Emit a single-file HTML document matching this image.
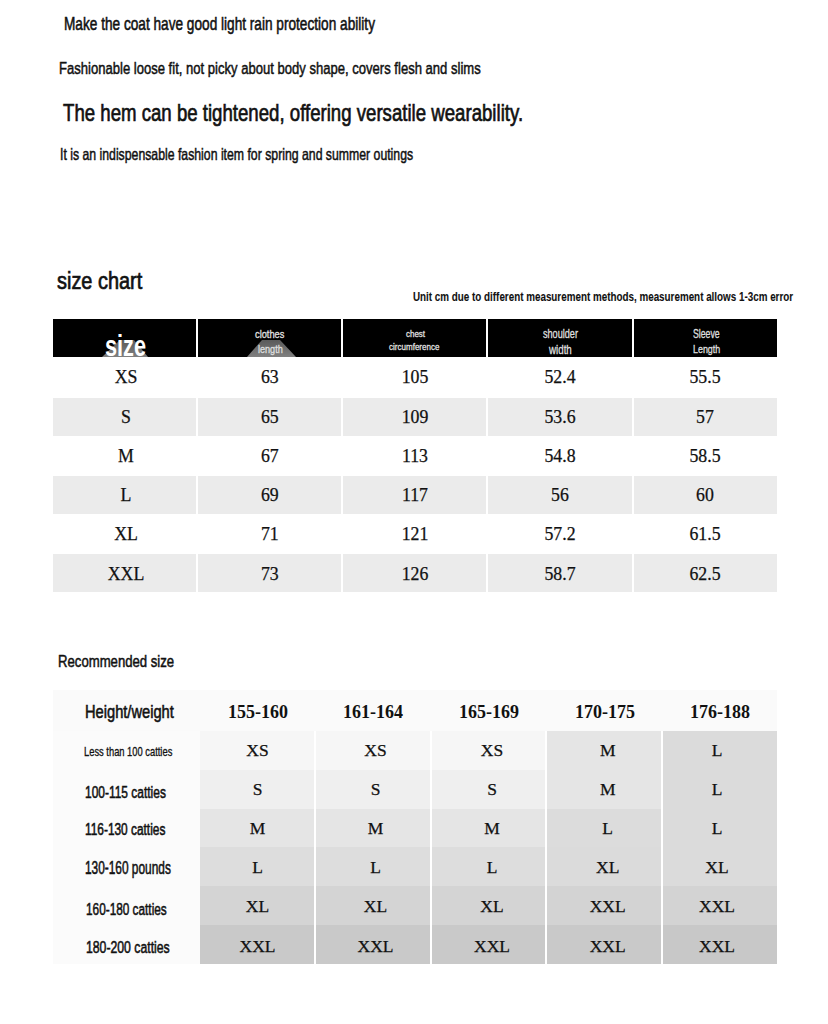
<!DOCTYPE html>
<html><head><meta charset="utf-8">
<style>
html,body{margin:0;padding:0;background:#fff;width:828px;height:1024px;overflow:hidden;position:relative}
.t{position:absolute;white-space:nowrap;line-height:1;font-family:"Liberation Sans",sans-serif;color:#111;transform-origin:0 0}
.c{position:absolute;font-family:"Liberation Serif",serif;color:#111;text-align:center;white-space:nowrap;line-height:1}
.hd{position:absolute;top:319px;height:38px;background:#000}
.r{position:absolute;background:#ebebeb}
.g{position:absolute}
</style></head><body>
<div class="t" style="left:64.08px;top:14.60px;font-size:18.02px;transform:scaleX(0.7573);color:#111;-webkit-text-stroke:0.55px #111;">Make the coat have good light rain protection ability</div>
<div class="t" style="left:59.05px;top:60.50px;font-size:16.86px;transform:scaleX(0.7745);color:#111;-webkit-text-stroke:0.5px #111;">Fashionable loose fit, not picky about body shape, covers flesh and slims</div>
<div class="t" style="left:62.85px;top:100.90px;font-size:24.27px;transform:scaleX(0.7676);color:#111;-webkit-text-stroke:0.7px #111;">The hem can be tightened, offering versatile wearability.</div>
<div class="t" style="left:60.35px;top:146.60px;font-size:16.72px;transform:scaleX(0.7342);color:#111;-webkit-text-stroke:0.5px #111;">It is an indispensable fashion item for spring and summer outings</div>
<div class="t" style="left:57.25px;top:270.30px;font-size:23.55px;transform:scaleX(0.8454);color:#111;-webkit-text-stroke:0.7px #111;">size chart</div>
<div class="t" style="left:412.65px;top:290.00px;font-size:13.66px;transform:scaleX(0.7207);color:#111;-webkit-text-stroke:0.1px #111;font-weight:bold;">Unit cm due to different measurement methods, measurement allows 1-3cm error</div>
<div class="hd" style="left:53px;width:143px"></div>
<div class="hd" style="left:198px;width:143px"></div>
<div class="hd" style="left:343px;width:143px"></div>
<div class="hd" style="left:488px;width:144px"></div>
<div class="hd" style="left:634px;width:143px"></div>
<svg class="g" style="left:0;top:0" width="828" height="400">
<defs><linearGradient id="tg" x1="0" y1="0" x2="0" y2="1"><stop offset="0" stop-color="#5a5a5a"/><stop offset="1" stop-color="#808080"/></linearGradient></defs>
<polygon points="120,340 134,340 148,357 102,357" fill="url(#tg)"/>
<polygon points="262,340 280,340 296,357 247,357" fill="url(#tg)"/>
</svg>
<div class="t" style="left:105.00px;top:330.70px;font-size:29.36px;transform:scaleX(0.7390);color:#fff;font-weight:bold;">size</div>
<div class="t" style="left:255.48px;top:329.80px;font-size:10.47px;transform:scaleX(0.8847);color:#dedede;-webkit-text-stroke:0.35px #dedede;">clothes</div>
<div class="t" style="left:258.18px;top:343.80px;font-size:10.61px;transform:scaleX(0.8560);color:#dedede;-webkit-text-stroke:0.35px #dedede;">length</div>
<div class="t" style="left:405.78px;top:329.80px;font-size:9.01px;transform:scaleX(0.8845);color:#dedede;-webkit-text-stroke:0.35px #dedede;">chest</div>
<div class="t" style="left:389.38px;top:342.90px;font-size:9.16px;transform:scaleX(0.8773);color:#dedede;-webkit-text-stroke:0.35px #dedede;">circumference</div>
<div class="t" style="left:542.88px;top:328.80px;font-size:11.92px;transform:scaleX(0.7646);color:#dedede;-webkit-text-stroke:0.35px #dedede;">shoulder</div>
<div class="t" style="left:549.22px;top:344.70px;font-size:11.92px;transform:scaleX(0.8193);color:#dedede;-webkit-text-stroke:0.35px #dedede;">width</div>
<div class="t" style="left:693.17px;top:327.80px;font-size:12.65px;transform:scaleX(0.6887);color:#dedede;-webkit-text-stroke:0.35px #dedede;">Sleeve</div>
<div class="t" style="left:693.17px;top:344.30px;font-size:11.34px;transform:scaleX(0.7855);color:#dedede;-webkit-text-stroke:0.35px #dedede;">Length</div>
<div class="r" style="top:398px;left:53px;width:143px;height:38px"></div>
<div class="r" style="top:398px;left:198px;width:143px;height:38px"></div>
<div class="r" style="top:398px;left:343px;width:143px;height:38px"></div>
<div class="r" style="top:398px;left:488px;width:144px;height:38px"></div>
<div class="r" style="top:398px;left:634px;width:143px;height:38px"></div>
<div class="r" style="top:476px;left:53px;width:143px;height:38px"></div>
<div class="r" style="top:476px;left:198px;width:143px;height:38px"></div>
<div class="r" style="top:476px;left:343px;width:143px;height:38px"></div>
<div class="r" style="top:476px;left:488px;width:144px;height:38px"></div>
<div class="r" style="top:476px;left:634px;width:143px;height:38px"></div>
<div class="r" style="top:554px;left:53px;width:143px;height:38px"></div>
<div class="r" style="top:554px;left:198px;width:143px;height:38px"></div>
<div class="r" style="top:554px;left:343px;width:143px;height:38px"></div>
<div class="r" style="top:554px;left:488px;width:144px;height:38px"></div>
<div class="r" style="top:554px;left:634px;width:143px;height:38px"></div>
<div class="c" style="left:66.0px;width:120px;top:369.40px;font-size:17.8px;-webkit-text-stroke:0.25px #111;color:#111">XS</div>
<div class="c" style="left:209.8px;width:120px;top:369.40px;font-size:17.8px;-webkit-text-stroke:0.25px #111;color:#111">63</div>
<div class="c" style="left:355.0px;width:120px;top:369.40px;font-size:17.8px;-webkit-text-stroke:0.25px #111;color:#111">105</div>
<div class="c" style="left:500.0px;width:120px;top:369.40px;font-size:17.8px;-webkit-text-stroke:0.25px #111;color:#111">52.4</div>
<div class="c" style="left:645.0px;width:120px;top:369.40px;font-size:17.8px;-webkit-text-stroke:0.25px #111;color:#111">55.5</div>
<div class="c" style="left:66.0px;width:120px;top:408.66px;font-size:17.8px;-webkit-text-stroke:0.25px #111;color:#111">S</div>
<div class="c" style="left:209.8px;width:120px;top:408.66px;font-size:17.8px;-webkit-text-stroke:0.25px #111;color:#111">65</div>
<div class="c" style="left:355.0px;width:120px;top:408.66px;font-size:17.8px;-webkit-text-stroke:0.25px #111;color:#111">109</div>
<div class="c" style="left:500.0px;width:120px;top:408.66px;font-size:17.8px;-webkit-text-stroke:0.25px #111;color:#111">53.6</div>
<div class="c" style="left:645.0px;width:120px;top:408.66px;font-size:17.8px;-webkit-text-stroke:0.25px #111;color:#111">57</div>
<div class="c" style="left:66.0px;width:120px;top:447.92px;font-size:17.8px;-webkit-text-stroke:0.25px #111;color:#111">M</div>
<div class="c" style="left:209.8px;width:120px;top:447.92px;font-size:17.8px;-webkit-text-stroke:0.25px #111;color:#111">67</div>
<div class="c" style="left:355.0px;width:120px;top:447.92px;font-size:17.8px;-webkit-text-stroke:0.25px #111;color:#111">113</div>
<div class="c" style="left:500.0px;width:120px;top:447.92px;font-size:17.8px;-webkit-text-stroke:0.25px #111;color:#111">54.8</div>
<div class="c" style="left:645.0px;width:120px;top:447.92px;font-size:17.8px;-webkit-text-stroke:0.25px #111;color:#111">58.5</div>
<div class="c" style="left:66.0px;width:120px;top:487.18px;font-size:17.8px;-webkit-text-stroke:0.25px #111;color:#111">L</div>
<div class="c" style="left:209.8px;width:120px;top:487.18px;font-size:17.8px;-webkit-text-stroke:0.25px #111;color:#111">69</div>
<div class="c" style="left:355.0px;width:120px;top:487.18px;font-size:17.8px;-webkit-text-stroke:0.25px #111;color:#111">117</div>
<div class="c" style="left:500.0px;width:120px;top:487.18px;font-size:17.8px;-webkit-text-stroke:0.25px #111;color:#111">56</div>
<div class="c" style="left:645.0px;width:120px;top:487.18px;font-size:17.8px;-webkit-text-stroke:0.25px #111;color:#111">60</div>
<div class="c" style="left:66.0px;width:120px;top:526.44px;font-size:17.8px;-webkit-text-stroke:0.25px #111;color:#111">XL</div>
<div class="c" style="left:209.8px;width:120px;top:526.44px;font-size:17.8px;-webkit-text-stroke:0.25px #111;color:#111">71</div>
<div class="c" style="left:355.0px;width:120px;top:526.44px;font-size:17.8px;-webkit-text-stroke:0.25px #111;color:#111">121</div>
<div class="c" style="left:500.0px;width:120px;top:526.44px;font-size:17.8px;-webkit-text-stroke:0.25px #111;color:#111">57.2</div>
<div class="c" style="left:645.0px;width:120px;top:526.44px;font-size:17.8px;-webkit-text-stroke:0.25px #111;color:#111">61.5</div>
<div class="c" style="left:66.0px;width:120px;top:565.70px;font-size:17.8px;-webkit-text-stroke:0.25px #111;color:#111">XXL</div>
<div class="c" style="left:209.8px;width:120px;top:565.70px;font-size:17.8px;-webkit-text-stroke:0.25px #111;color:#111">73</div>
<div class="c" style="left:355.0px;width:120px;top:565.70px;font-size:17.8px;-webkit-text-stroke:0.25px #111;color:#111">126</div>
<div class="c" style="left:500.0px;width:120px;top:565.70px;font-size:17.8px;-webkit-text-stroke:0.25px #111;color:#111">58.7</div>
<div class="c" style="left:645.0px;width:120px;top:565.70px;font-size:17.8px;-webkit-text-stroke:0.25px #111;color:#111">62.5</div>
<div class="t" style="left:58.45px;top:653.10px;font-size:16.28px;transform:scaleX(0.8082);color:#111;-webkit-text-stroke:0.5px #111;">Recommended size</div>
<div class="g" style="left:53px;top:690px;width:724px;height:41px;background:#fafafa"></div>
<div class="g" style="left:53px;top:731px;width:147px;height:233px;background:#fbfbfb"></div>
<div class="g" style="left:200px;top:731px;width:114px;height:39px;background:#f6f6f6"></div>
<div class="g" style="left:316px;top:731px;width:114px;height:39px;background:#f6f6f6"></div>
<div class="g" style="left:432px;top:731px;width:113px;height:39px;background:#f6f6f6"></div>
<div class="g" style="left:547px;top:731px;width:114px;height:39px;background:#e5e5e5"></div>
<div class="g" style="left:663px;top:731px;width:114px;height:39px;background:#dbdbdb"></div>
<div class="g" style="left:200px;top:770px;width:114px;height:39px;background:#efefef"></div>
<div class="g" style="left:316px;top:770px;width:114px;height:39px;background:#efefef"></div>
<div class="g" style="left:432px;top:770px;width:113px;height:39px;background:#efefef"></div>
<div class="g" style="left:547px;top:770px;width:114px;height:39px;background:#e5e5e5"></div>
<div class="g" style="left:663px;top:770px;width:114px;height:39px;background:#dbdbdb"></div>
<div class="g" style="left:200px;top:809px;width:114px;height:38px;background:#e5e5e5"></div>
<div class="g" style="left:316px;top:809px;width:114px;height:38px;background:#e5e5e5"></div>
<div class="g" style="left:432px;top:809px;width:113px;height:38px;background:#e5e5e5"></div>
<div class="g" style="left:547px;top:809px;width:114px;height:38px;background:#dcdcdc"></div>
<div class="g" style="left:663px;top:809px;width:114px;height:38px;background:#dbdbdb"></div>
<div class="g" style="left:200px;top:847px;width:114px;height:39px;background:#dddddd"></div>
<div class="g" style="left:316px;top:847px;width:114px;height:39px;background:#dddddd"></div>
<div class="g" style="left:432px;top:847px;width:113px;height:39px;background:#dddddd"></div>
<div class="g" style="left:547px;top:847px;width:114px;height:39px;background:#dbdbdb"></div>
<div class="g" style="left:663px;top:847px;width:114px;height:39px;background:#dbdbdb"></div>
<div class="g" style="left:200px;top:886px;width:114px;height:39px;background:#d4d4d4"></div>
<div class="g" style="left:316px;top:886px;width:114px;height:39px;background:#d4d4d4"></div>
<div class="g" style="left:432px;top:886px;width:113px;height:39px;background:#d4d4d4"></div>
<div class="g" style="left:547px;top:886px;width:114px;height:39px;background:#d3d3d3"></div>
<div class="g" style="left:663px;top:886px;width:114px;height:39px;background:#d3d3d3"></div>
<div class="g" style="left:200px;top:925px;width:114px;height:39px;background:#c9c9c9"></div>
<div class="g" style="left:316px;top:925px;width:114px;height:39px;background:#c9c9c9"></div>
<div class="g" style="left:432px;top:925px;width:113px;height:39px;background:#c9c9c9"></div>
<div class="g" style="left:547px;top:925px;width:114px;height:39px;background:#c9c9c9"></div>
<div class="g" style="left:663px;top:925px;width:114px;height:39px;background:#c8c8c8"></div>
<div class="c" style="left:197.8px;width:120px;top:702.00px;font-size:19px;font-weight:bold;transform:scaleX(0.947);color:#111">155-160</div>
<div class="c" style="left:313.2px;width:120px;top:702.00px;font-size:19px;font-weight:bold;transform:scaleX(0.947);color:#111">161-164</div>
<div class="c" style="left:428.6px;width:120px;top:702.00px;font-size:19px;font-weight:bold;transform:scaleX(0.947);color:#111">165-169</div>
<div class="c" style="left:544.7px;width:120px;top:702.00px;font-size:19px;font-weight:bold;transform:scaleX(0.947);color:#111">170-175</div>
<div class="c" style="left:660.0px;width:120px;top:702.00px;font-size:19px;font-weight:bold;transform:scaleX(0.947);color:#111">176-188</div>
<div class="c" style="left:197.5px;width:120px;top:742.20px;font-size:17.5px;-webkit-text-stroke:0.25px #111;color:#111">XS</div>
<div class="c" style="left:315.5px;width:120px;top:742.20px;font-size:17.5px;-webkit-text-stroke:0.25px #111;color:#111">XS</div>
<div class="c" style="left:432.0px;width:120px;top:742.20px;font-size:17.5px;-webkit-text-stroke:0.25px #111;color:#111">XS</div>
<div class="c" style="left:547.7px;width:120px;top:742.20px;font-size:17.5px;-webkit-text-stroke:0.25px #111;color:#111">M</div>
<div class="c" style="left:657.0px;width:120px;top:742.20px;font-size:17.5px;-webkit-text-stroke:0.25px #111;color:#111">L</div>
<div class="c" style="left:197.5px;width:120px;top:781.26px;font-size:17.5px;-webkit-text-stroke:0.25px #111;color:#111">S</div>
<div class="c" style="left:315.5px;width:120px;top:781.26px;font-size:17.5px;-webkit-text-stroke:0.25px #111;color:#111">S</div>
<div class="c" style="left:432.0px;width:120px;top:781.26px;font-size:17.5px;-webkit-text-stroke:0.25px #111;color:#111">S</div>
<div class="c" style="left:547.7px;width:120px;top:781.26px;font-size:17.5px;-webkit-text-stroke:0.25px #111;color:#111">M</div>
<div class="c" style="left:657.0px;width:120px;top:781.26px;font-size:17.5px;-webkit-text-stroke:0.25px #111;color:#111">L</div>
<div class="c" style="left:197.5px;width:120px;top:820.32px;font-size:17.5px;-webkit-text-stroke:0.25px #111;color:#111">M</div>
<div class="c" style="left:315.5px;width:120px;top:820.32px;font-size:17.5px;-webkit-text-stroke:0.25px #111;color:#111">M</div>
<div class="c" style="left:432.0px;width:120px;top:820.32px;font-size:17.5px;-webkit-text-stroke:0.25px #111;color:#111">M</div>
<div class="c" style="left:547.7px;width:120px;top:820.32px;font-size:17.5px;-webkit-text-stroke:0.25px #111;color:#111">L</div>
<div class="c" style="left:657.0px;width:120px;top:820.32px;font-size:17.5px;-webkit-text-stroke:0.25px #111;color:#111">L</div>
<div class="c" style="left:197.5px;width:120px;top:859.38px;font-size:17.5px;-webkit-text-stroke:0.25px #111;color:#111">L</div>
<div class="c" style="left:315.5px;width:120px;top:859.38px;font-size:17.5px;-webkit-text-stroke:0.25px #111;color:#111">L</div>
<div class="c" style="left:432.0px;width:120px;top:859.38px;font-size:17.5px;-webkit-text-stroke:0.25px #111;color:#111">L</div>
<div class="c" style="left:547.7px;width:120px;top:859.38px;font-size:17.5px;-webkit-text-stroke:0.25px #111;color:#111">XL</div>
<div class="c" style="left:657.0px;width:120px;top:859.38px;font-size:17.5px;-webkit-text-stroke:0.25px #111;color:#111">XL</div>
<div class="c" style="left:197.5px;width:120px;top:898.44px;font-size:17.5px;-webkit-text-stroke:0.25px #111;color:#111">XL</div>
<div class="c" style="left:315.5px;width:120px;top:898.44px;font-size:17.5px;-webkit-text-stroke:0.25px #111;color:#111">XL</div>
<div class="c" style="left:432.0px;width:120px;top:898.44px;font-size:17.5px;-webkit-text-stroke:0.25px #111;color:#111">XL</div>
<div class="c" style="left:547.7px;width:120px;top:898.44px;font-size:17.5px;-webkit-text-stroke:0.25px #111;color:#111">XXL</div>
<div class="c" style="left:657.0px;width:120px;top:898.44px;font-size:17.5px;-webkit-text-stroke:0.25px #111;color:#111">XXL</div>
<div class="c" style="left:197.5px;width:120px;top:937.50px;font-size:17.5px;-webkit-text-stroke:0.25px #111;color:#111">XXL</div>
<div class="c" style="left:315.5px;width:120px;top:937.50px;font-size:17.5px;-webkit-text-stroke:0.25px #111;color:#111">XXL</div>
<div class="c" style="left:432.0px;width:120px;top:937.50px;font-size:17.5px;-webkit-text-stroke:0.25px #111;color:#111">XXL</div>
<div class="c" style="left:547.7px;width:120px;top:937.50px;font-size:17.5px;-webkit-text-stroke:0.25px #111;color:#111">XXL</div>
<div class="c" style="left:657.0px;width:120px;top:937.50px;font-size:17.5px;-webkit-text-stroke:0.25px #111;color:#111">XXL</div>
<div class="t" style="left:84.78px;top:704.00px;font-size:17.59px;transform:scaleX(0.8337);color:#111;-webkit-text-stroke:0.55px #111;">Height/weight</div>
<div class="t" style="left:84.15px;top:746.90px;font-size:11.92px;transform:scaleX(0.7849);color:#111;-webkit-text-stroke:0.3px #111;">Less than 100 catties</div>
<div class="t" style="left:85.28px;top:783.50px;font-size:16.13px;transform:scaleX(0.7426);color:#111;-webkit-text-stroke:0.55px #111;">100-115 catties</div>
<div class="t" style="left:85.28px;top:822.40px;font-size:15.84px;transform:scaleX(0.7506);color:#111;-webkit-text-stroke:0.55px #111;">116-130 catties</div>
<div class="t" style="left:85.28px;top:860.00px;font-size:17.44px;transform:scaleX(0.6808);color:#111;-webkit-text-stroke:0.55px #111;">130-160 pounds</div>
<div class="t" style="left:85.98px;top:902.20px;font-size:16.86px;transform:scaleX(0.7002);color:#111;-webkit-text-stroke:0.55px #111;">160-180 catties</div>
<div class="t" style="left:85.98px;top:940.40px;font-size:16.86px;transform:scaleX(0.7262);color:#111;-webkit-text-stroke:0.55px #111;">180-200 catties</div>
</body></html>
